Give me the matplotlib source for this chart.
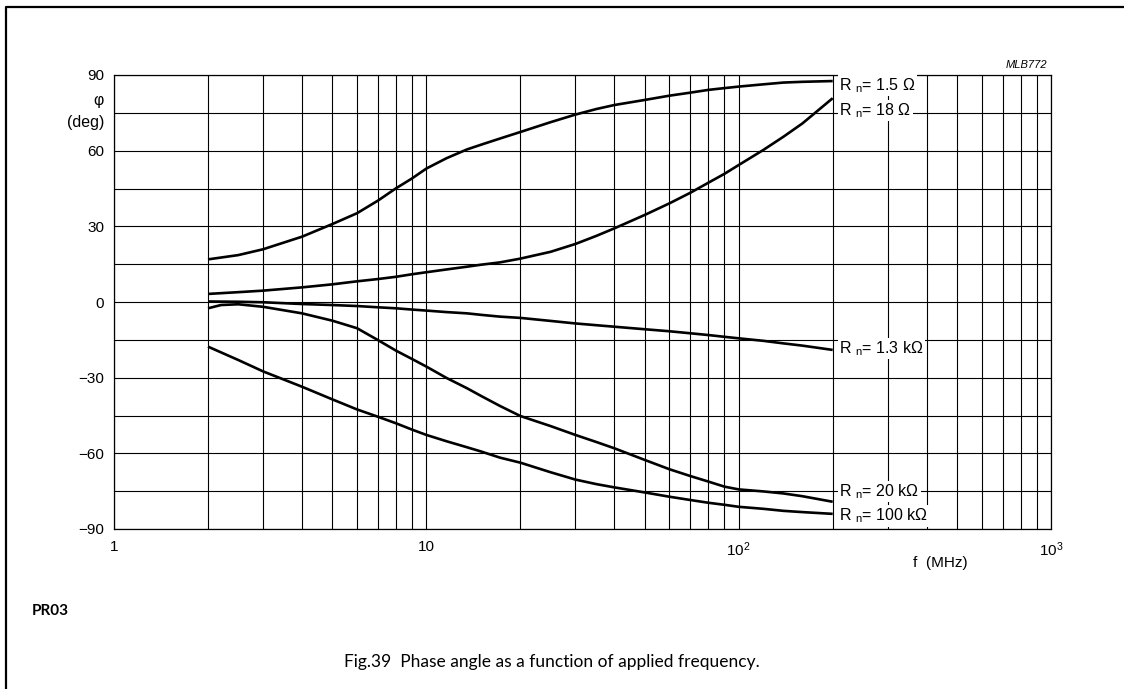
import matplotlib.pyplot as plt
from matplotlib.lines import Line2D
from matplotlib.ticker import NullFormatter

plt.rcParams['font.family'] = ['Liberation Sans', 'DejaVu Sans']
plt.rcParams['mathtext.fontset'] = 'custom'
plt.rcParams['mathtext.rm'] = 'Liberation Sans'
plt.rcParams['mathtext.it'] = 'Liberation Sans:italic'

# phase angle (deg) versus frequency (MHz), one curve per Rn
f_15 = [2, 2.5, 3, 4, 5, 6, 7, 8, 9, 10, 11.6, 13.5, 15, 17.2, 20, 25, 30, 35, 40, 50,
        60, 70, 80, 90, 100, 120, 139, 160, 200]
phi_15 = [16.9, 18.6, 20.9, 25.9, 30.9, 35.2, 40.2, 45.1, 49.0, 52.9, 57.0, 60.5, 62.4, 64.8, 67.4,
          71.3, 74.3, 76.5, 78.1, 80.1, 81.8, 83.0, 84.1, 84.8, 85.4, 86.3, 87.0, 87.3, 87.6]

f_18 = [2, 2.5, 3, 4, 5, 6, 7, 8, 9, 10, 11.6, 13.5, 15, 17.2, 20, 25, 30, 35, 40, 50,
        60, 70, 80, 90, 100, 120, 139, 160, 200]
phi_18 = [3.2, 3.9, 4.5, 5.8, 7.0, 8.2, 9.1, 10.0, 11.0, 11.8, 12.9, 14.0, 14.8, 15.7, 17.2,
          19.9, 23.0, 26.2, 29.2, 34.5, 39.1, 43.3, 47.3, 50.8, 54.3, 60.3, 65.5, 70.8, 80.8]

f_1k3 = [2, 2.5, 3, 4, 5, 6, 7, 8, 9, 10, 11.6, 13.5, 15, 17.2, 20, 25, 30, 35, 40, 50,
         60, 70, 80, 90, 100, 120, 139, 160, 200]
phi_1k3 = [0.2, 0.1, -0.1, -0.8, -1.2, -1.6, -2.1, -2.5, -3.0, -3.4, -4.0, -4.5, -5.1, -5.8, -6.3,
           -7.5, -8.5, -9.2, -9.8, -10.8, -11.6, -12.4, -13.1, -13.8, -14.4, -15.4, -16.4, -17.3, -19.0]

f_20k = [2, 2.2, 2.5, 3, 4, 5, 6, 7, 8, 9, 10, 11.6, 13.5, 15, 17.2, 20, 25, 30, 35, 40, 50,
         60, 70, 80, 90, 100, 120, 139, 160, 200]
phi_20k = [-2.5, -1.2, -0.9, -1.9, -4.5, -7.4, -10.4, -15.1, -19.3, -22.6, -25.6, -30.1, -34.2,
           -37.3, -41.2, -45.2, -49.2, -52.7, -55.5, -58.0, -62.6, -66.3, -69.0, -71.2, -73.2,
           -74.3, -75.1, -75.9, -77.0, -79.2]

f_100k = [2, 2.5, 3, 4, 5, 6, 7, 8, 9, 10, 11.6, 13.5, 15, 17.2, 20, 25, 30, 35, 40, 50,
          60, 70, 80, 90, 100, 120, 139, 160, 200]
phi_100k = [-17.7, -23.0, -27.5, -33.6, -38.6, -42.6, -45.5, -48.1, -50.6, -52.7, -55.2, -57.6,
            -59.3, -61.7, -63.7, -67.5, -70.4, -72.2, -73.5, -75.5, -77.2, -78.5, -79.6, -80.4,
            -81.2, -82.0, -82.8, -83.3, -84.0]

curve_labels = [r'R $_{\mathregular{n}}$= 1.5 Ω', r'R $_{\mathregular{n}}$= 18 Ω',
                r'R $_{\mathregular{n}}$= 1.3 kΩ', r'R $_{\mathregular{n}}$= 20 kΩ',
                r'R $_{\mathregular{n}}$= 100 kΩ']
label_y = [84.1, 74.1, -20.3, -76.9, -86.7]

x_major = [1, 10, 100, 1000]
x_major_labels = ['1', '10', r'10$^{2}$', r'10$^{3}$']
x_minor = [2, 3, 4, 5, 6, 7, 8, 9, 20, 30, 40, 50, 60, 70, 80, 90,
           200, 300, 400, 500, 600, 700, 800, 900]
y_major = [-90, -60, -30, 0, 30, 60, 90]
y_minor = [-75, -45, -15, 15, 45, 75]

W, H = 1124, 689
fig = plt.figure(figsize=(W / 100, H / 100), dpi=100)
ax = fig.add_axes([114 / W, 1 - 529 / H, (1051 - 114) / W, (529 - 75) / H])

ax.set_xscale('log')
ax.set_xlim(1, 1000)
ax.set_ylim(-90, 90)
ax.set_xticks(x_major)
ax.set_xticklabels(x_major_labels)
ax.set_xticks(x_minor, minor=True)
ax.xaxis.set_minor_formatter(NullFormatter())
ax.set_yticks(y_major)
ax.set_yticks(y_minor, minor=True)
ax.grid(which='both', color='black', lw=0.8)
ax.set_axisbelow(True)
ax.tick_params(which='both', length=0, labelsize=11, colors='black')
ax.tick_params(axis='y', pad=7)
ax.tick_params(axis='x', pad=8)
for s in ax.spines.values():
    s.set_linewidth(0.9)

for f, phi in [(f_15, phi_15), (f_18, phi_18), (f_1k3, phi_1k3), (f_20k, phi_20k), (f_100k, phi_100k)]:
    ax.plot(f, phi, color='black', lw=1.9, solid_capstyle='butt', solid_joinstyle='round', zorder=3)

for text, y in zip(curve_labels, label_y):
    ax.text(210, y, text, fontsize=11.5, ha='left', va='baseline', zorder=4,
            bbox=dict(facecolor='white', edgecolor='none', pad=1.0))

fig.text(104 / W, 1 - 100 / H, 'φ', fontsize=11.5, ha='right', va='center')
fig.text(104 / W, 1 - 122 / H, '(deg)', fontsize=11.5, ha='right', va='center')
fig.text(940 / W, 1 - 563 / H, 'f  (MHz)', fontsize=11, ha='center', va='center')
fig.text(1047 / W, 1 - 68 / H, 'MLB772', fontsize=8, style='italic', ha='right', va='baseline')

fig.text(32 / W, 1 - 615 / H, 'PR03', family='Lato', fontweight='bold', fontsize=11, va='baseline')
fig.text(552 / W, 1 - 667 / H, 'Fig.39  Phase angle as a function of applied frequency.',
         family='Lato', fontsize=12.5, ha='center', va='baseline')

# page frame: left and top edges only
fig.add_artist(Line2D([6 / W, 6 / W, 1.0], [0.0, 1 - 6.5 / H, 1 - 6.5 / H],
                      transform=fig.transFigure, color='black', lw=1.6))

fig.savefig('out.png', dpi=100)
